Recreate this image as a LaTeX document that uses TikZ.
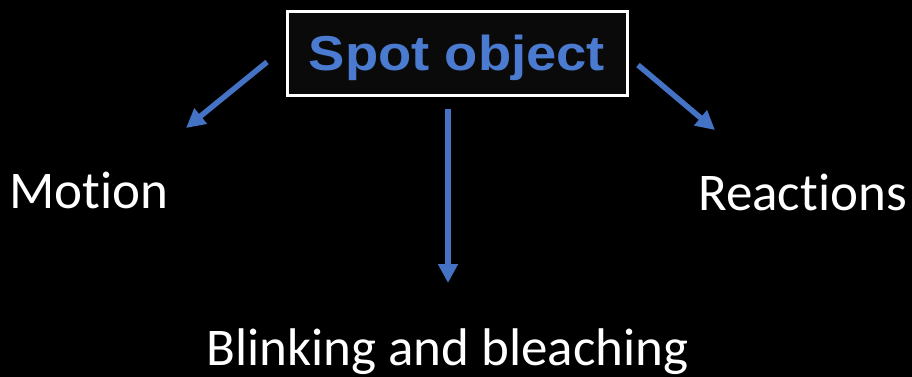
\documentclass[tikz,border=0pt]{standalone}
\usepackage{fontspec}
\setmainfont[Ligatures=NoCommon]{Carlito}
\newfontfamily\boxfont{Liberation Sans}
\usetikzlibrary{arrows.meta}
\definecolor{arrowblue}{HTML}{4472C4}
\definecolor{textblue}{HTML}{4A7BD0}
\definecolor{boxfill}{HTML}{0A0A0A}
\begin{document}
\begin{tikzpicture}[x=1pt,y=-1pt,
  txt/.style={text=white, font=\fontsize{53}{53}\selectfont, inner sep=0pt, anchor=base},
  spotbox/.style={draw=white, line width=3pt, fill=boxfill, minimum width=340pt,
    minimum height=84pt, inner sep=0pt, text height=33pt, text depth=0pt,
    text=textblue, font=\boxfont\bfseries\fontsize{49}{49}\selectfont},
  arr/.style={draw=arrowblue, line width=5.5pt, -{Triangle[width=19pt,length=19pt]}}]
\fill[black] (0,0) rectangle (912,377);
\useasboundingbox (0,0) rectangle (912,377);
\node[spotbox] (spot) at (457,54) {\scalebox{1.11}[1]{Spot object}};
\node[txt] (motion) at (89,208) {Motion};
\node[txt] (react) at (802.5,210) {Reactions};
\node[txt] (blink) at (447.5,365) {Blinking and bleaching};
\coordinate (ls) at (267,62);
\coordinate (le) at (186,128);
\coordinate (rs) at (638,65);
\coordinate (re) at (715,130);
\coordinate (ds) at (448,109);
\coordinate (de) at (448,283);
\draw[arr] (ls) -- (le);
\draw[arr] (rs) -- (re);
\draw[arr] (ds) -- (de);
\end{tikzpicture}
\end{document}
